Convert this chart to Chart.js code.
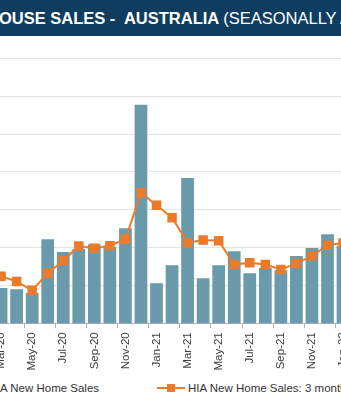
<!DOCTYPE html>
<html>
<head>
<meta charset="utf-8">
<script src="https://cdn.jsdelivr.net/npm/chart.js@4"></script>
<style>
html,body{margin:0;padding:0;background:#fff;}
body{width:341px;height:400px;overflow:hidden;position:relative;font-family:"Liberation Sans",Arial,sans-serif;}
#title{position:absolute;left:0;top:0;width:341px;height:36px;background:#0e3d5f;overflow:hidden;}
#titleText{position:absolute;top:0;line-height:36px;font-size:16.5px;color:#fff;white-space:pre;font-weight:bold;}
#titleText span{font-weight:normal;}
#box{position:absolute;left:0;top:0;width:380px;height:340px;}
.leg{position:absolute;top:380px;font-size:11.5px;color:#333;white-space:nowrap;line-height:16px;}
.sw{position:absolute;}
</style>
</head>
<body>
<div id="title"><div id="titleText">HIA NEW HOUSE SALES -  AUSTRALIA <span>(SEASONALLY ADJUSTED)</span></div></div>
<div id="box"><canvas id="chart"></canvas></div>
<div class="sw" id="sw1" style="top:383px;width:9px;height:9px;background:#6a9bad;"></div>
<div class="leg" id="leg1">HIA New Home Sales</div>
<div class="sw" style="left:157px;top:387px;width:28px;height:2px;background:#ec7a2b;"></div>
<div class="sw" style="left:167px;top:384px;width:8px;height:8px;background:#ec7a2b;"></div>
<div class="leg" style="left:188px;">HIA New Home Sales: 3 month average</div>
<script>
const el=id=>document.getElementById(id);

// DATA (monthly, seasonally adjusted)
const months=["Mar-20","Apr-20","May-20","Jun-20","Jul-20","Aug-20","Sep-20","Oct-20","Nov-20","Dec-20",
"Jan-21","Feb-21","Mar-21","Apr-21","May-21","Jun-21","Jul-21","Aug-21","Sep-21","Oct-21","Nov-21","Dec-21","Jan-22"];
const sales=[4930,4900,4800,6220,5880,5960,6090,6020,6510,9770,
5060,5530,7840,5190,5530,5900,5320,5460,5400,5780,5990,6350,6040];
const avg3=[5240,5100,4870,5320,5650,6040,5980,6050,6220,7450,
7120,6790,6130,6200,6180,5550,5600,5550,5420,5580,5780,6060,6120];
const yMin=4000, yMax=11000, yStep=1000;

// where the plot area sits in the (cropped) view
const AREA={left:-6.3,right:351.3,top:58,bottom:323};

// title: push "HIA NEW H" out of view
const ctx0=document.createElement("canvas").getContext("2d");
ctx0.font='bold 16.5px "Liberation Sans", Arial, sans-serif';
el("titleText").style.left=(-ctx0.measureText("HIA NEW H").width-0.5)+"px";
ctx0.font='11.5px "Liberation Sans", Arial, sans-serif';
const hiW=ctx0.measureText("HI").width;
el("leg1").style.left=(-hiW)+"px";
el("sw1").style.left=(-hiW-14)+"px";

const chart=new Chart(el("chart"),{
type:"bar",
data:{
labels:months,
datasets:[
{type:"line",label:"HIA New Home Sales: 3 month average",data:avg3,borderColor:"#ec7a2b",backgroundColor:"#ec7a2b",
 borderWidth:2,pointStyle:"rect",pointRadius:5.3,pointHoverRadius:5.3,tension:0,order:1},
{type:"bar",label:"HIA New Home Sales",data:sales,backgroundColor:"#6a9bad",
 barPercentage:0.82,categoryPercentage:1,order:2}
]
},
options:{
responsive:true,
maintainAspectRatio:false,
animation:false,
layout:{padding:0},
plugins:{legend:{display:false},tooltip:{enabled:false}},
scales:{
x:{
offset:true,
grid:{offset:true,drawOnChartArea:false,drawTicks:true,tickLength:5,
 color:c=>c.index%2===0?"#b0b0b0":"rgba(0,0,0,0)"},
border:{display:true,color:"#b0b0b0"},
ticks:{autoSkip:false,maxRotation:90,minRotation:90,padding:4,color:"#404040",
 font:{family:'"Liberation Sans", Arial, sans-serif',size:11.5},
 callback:function(v,i){return i%2===0?this.getLabelForValue(v):"";}}
},
y:{
min:yMin,max:yMax,
ticks:{display:false,stepSize:yStep},
grid:{color:"#e4e4e4",drawTicks:false},
border:{display:false}
}
}
}
});

// fit the plot area onto the cropped view
function fit(){
const box=el("box");
let a=chart.chartArea;
box.style.width=(box.offsetWidth+((AREA.right-AREA.left)-(a.right-a.left)))+"px";
box.style.height=(box.offsetHeight+((AREA.bottom-AREA.top)-(a.bottom-a.top)))+"px";
chart.resize();
a=chart.chartArea;
box.style.left=(AREA.left-a.left)+"px";
box.style.top=(AREA.top-a.top)+"px";
}
fit();
</script>
</body>
</html>
